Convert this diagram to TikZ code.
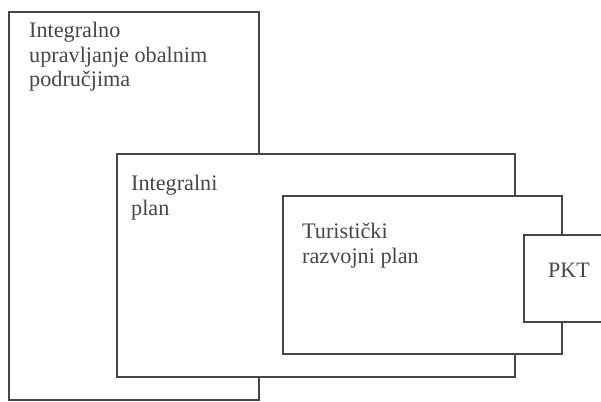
\documentclass[tikz,border=0pt]{standalone}
\usepackage{fontspec}
\setmainfont{Liberation Serif}
\begin{document}
\begin{tikzpicture}[x=1pt,y=-1pt,
  box/.style={draw=black!72,line width=1.6pt,fill=white,rectangle,inner sep=0pt,anchor=north west},
  lbl/.style={inner sep=0pt,anchor=base west,align=left,text=black!72,font=\fontsize{22.2}{24.6}\selectfont}]
\useasboundingbox (0,0) rectangle (601,401);
\node[box,minimum width=250pt,minimum height=388pt] (outer) at (8,11) {};
\node[box,minimum width=398pt,minimum height=223pt] (plan) at (116,153) {};
\node[box,minimum width=279pt,minimum height=158pt] (tur) at (282,195) {};
\node[box,minimum width=78pt,minimum height=87pt] (pkt) at (523,234) {};
\node[lbl] (t1) at (29,87) {Integralno\\upravljanje obalnim\\područjima};
\node[lbl] (t2) at (131,215) {Integralni\\plan};
\node[lbl] (t3) at (302,263) {Turistički\\razvojni plan};
\node[inner sep=0pt,anchor=base,text=black!72,font=\fontsize{22}{25}\selectfont] (t4) at (569,277) {PKT};
\end{tikzpicture}
\end{document}
